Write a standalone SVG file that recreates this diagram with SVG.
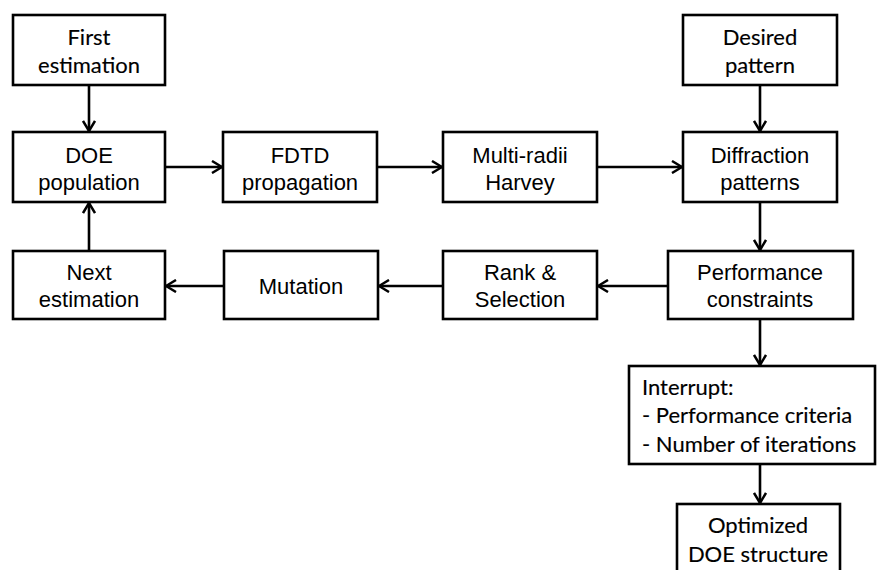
<svg xmlns="http://www.w3.org/2000/svg" width="878" height="570" viewBox="0 0 878 570">
<defs>
<marker id="arr" viewBox="0 0 12 14" refX="11" refY="7" markerWidth="12" markerHeight="14" markerUnits="userSpaceOnUse" orient="auto">
<path d="M1,1 L11,7 L1,13" fill="none" stroke="#000" stroke-width="2.5"/>
</marker>
<style>
.box{fill:#fff;stroke:#000;stroke-width:2.6}
.a{font-family:"Liberation Sans",Arial,sans-serif;font-size:22px;fill:#000;text-anchor:middle}
.c{font-family:Lato,"Open Sans",sans-serif;font-size:22px;fill:#000;stroke:#000;stroke-width:0.15;text-anchor:middle}
.cl{font-family:Lato,"Open Sans",sans-serif;font-size:22px;fill:#000;stroke:#000;stroke-width:0.15}
.con{stroke:#000;stroke-width:2.6;fill:none;marker-end:url(#arr)}
</style>
</defs>
<rect width="878" height="570" fill="#fff"/>
<g id="connectors">
<line class="con" x1="89" y1="85" x2="89" y2="131"/>
<line class="con" x1="165" y1="167" x2="222" y2="167"/>
<line class="con" x1="377" y1="167" x2="442" y2="167"/>
<line class="con" x1="597" y1="167" x2="682" y2="167"/>
<line class="con" x1="760" y1="85" x2="760" y2="131"/>
<line class="con" x1="760" y1="202" x2="760" y2="250"/>
<line class="con" x1="668" y1="286" x2="598" y2="286"/>
<line class="con" x1="443" y1="286" x2="379" y2="286"/>
<line class="con" x1="224" y1="286" x2="166" y2="286"/>
<line class="con" x1="89" y1="251" x2="89" y2="203"/>
<line class="con" x1="760" y1="319" x2="760" y2="365"/>
<line class="con" x1="760" y1="464" x2="760" y2="503"/>
</g>
<g id="first">
<rect class="box" x="13" y="15" width="152" height="70"/>
<text class="c" x="89" y="45">First</text>
<text class="c" x="89" y="73">estimation</text>
</g>
<g id="doe">
<rect class="box" x="13" y="132" width="152" height="70"/>
<text class="a" x="89" y="163">DOE</text>
<text class="a" x="89" y="190">population</text>
</g>
<g id="fdtd">
<rect class="box" x="223" y="132" width="154" height="70"/>
<text class="a" x="300" y="163">FDTD</text>
<text class="a" x="300" y="190">propagation</text>
</g>
<g id="harvey">
<rect class="box" x="443" y="132" width="154" height="70"/>
<text class="a" x="520" y="163">Multi-radii</text>
<text class="a" x="520" y="190">Harvey</text>
</g>
<g id="desired">
<rect class="box" x="683" y="15" width="154" height="70"/>
<text class="c" x="760" y="45">Desired</text>
<text class="c" x="760" y="73">pattern</text>
</g>
<g id="diffraction">
<rect class="box" x="683" y="132" width="154" height="70"/>
<text class="a" x="760" y="163">Diffraction</text>
<text class="a" x="760" y="190">patterns</text>
</g>
<g id="performance">
<rect class="box" x="668" y="251" width="185" height="68"/>
<text class="a" x="760" y="280">Performance</text>
<text class="a" x="760" y="307">constraints</text>
</g>
<g id="rank">
<rect class="box" x="443" y="251" width="154" height="68"/>
<text class="a" x="520" y="280">Rank &amp;</text>
<text class="a" x="520" y="307">Selection</text>
</g>
<g id="mutation">
<rect class="box" x="224" y="251" width="154" height="68"/>
<text class="a" x="301" y="294">Mutation</text>
</g>
<g id="next">
<rect class="box" x="13" y="251" width="152" height="68"/>
<text class="a" x="89" y="280">Next</text>
<text class="a" x="89" y="307">estimation</text>
</g>
<g id="interrupt">
<rect class="box" x="629" y="366" width="246" height="98"/>
<text class="cl" x="642" y="395">Interrupt:</text>
<text class="cl" x="642" y="423">- Performance criteria</text>
<text class="cl" x="642" y="452">- Number of iterations</text>
</g>
<g id="optimized">
<rect class="box" x="677" y="504" width="163" height="80"/>
<text class="c" x="758" y="533">Optimized</text>
<text class="c" x="758" y="562">DOE structure</text>
</g>
</svg>
